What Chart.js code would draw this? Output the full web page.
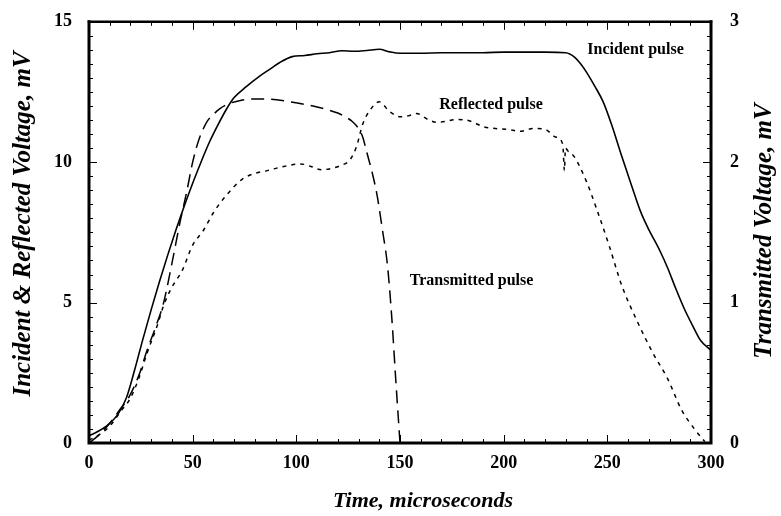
<!DOCTYPE html>
<html>
<head>
<meta charset="utf-8">
<script src="https://cdn.jsdelivr.net/npm/chart.js@4/dist/chart.umd.min.js"></script>
<style>
html,body{margin:0;padding:0;background:#fff;}
#wrap{width:781px;height:516px;}
</style>
</head>
<body>
<div id="wrap"><canvas id="c" width="781" height="516"></canvas></div>
<script>
// ---- data (time in microseconds) ----
const tIncident = [0, 4, 8, 14, 18, 22, 26, 30, 34, 38, 42, 46, 50, 54, 58, 62, 66, 70, 76, 82, 88, 92, 98, 104, 110, 116, 122, 128, 134, 140, 145, 150, 160, 170, 180, 190, 200, 210, 220, 230, 234, 238, 240, 244, 248, 252, 257, 262, 266, 270, 275, 279, 283, 287, 291, 295, 300];
const vIncident = [0.26, 0.4, 0.58, 1.03, 1.6, 2.6, 3.7, 4.75, 5.75, 6.7, 7.6, 8.45, 9.25, 10.0, 10.7, 11.3, 11.85, 12.3, 12.7, 13.05, 13.35, 13.55, 13.76, 13.8, 13.86, 13.9, 13.97, 13.95, 13.98, 14.02, 13.93, 13.88, 13.88, 13.9, 13.9, 13.9, 13.92, 13.92, 13.92, 13.9, 13.75, 13.42, 13.2, 12.7, 12.15, 11.35, 10.2, 9.1, 8.25, 7.6, 6.9, 6.25, 5.5, 4.8, 4.2, 3.65, 3.3];

const tReflected = [0, 5, 10, 15, 20, 24, 28, 33, 36, 40, 45, 50, 55, 60, 66, 74, 80, 86, 94, 102, 107, 112, 117, 121, 126, 129, 132, 135.5, 140, 145, 150, 154, 158, 164, 168, 172, 177, 182, 186, 190, 196, 202, 208, 214, 220, 225, 228.5, 229.3, 229.8, 231, 234, 240, 245, 251, 257, 264, 272, 279, 286, 292, 297];
const vReflected = [0.1, 0.3, 0.6, 1.1, 1.6, 2.3, 3.2, 4.2, 4.9, 5.55, 6.15, 7.05, 7.55, 8.2, 8.8, 9.4, 9.6, 9.7, 9.85, 9.94, 9.85, 9.73, 9.78, 9.87, 10.1, 10.55, 11.35, 11.85, 12.15, 11.8, 11.62, 11.65, 11.73, 11.5, 11.42, 11.45, 11.52, 11.5, 11.4, 11.27, 11.2, 11.17, 11.1, 11.2, 11.17, 10.9, 10.64, 9.7, 10.5, 10.4, 10.2, 9.3, 8.3, 7.0, 5.6, 4.4, 3.2, 2.3, 1.15, 0.5, 0.05];

// transmitted voltage on the right axis (mV)
const tTransmitted = [0, 5, 10, 15, 19, 24, 28, 32, 36, 40, 44, 47, 50, 53, 57, 60, 63, 68, 73, 78, 86, 97, 108, 116, 120, 124, 127, 130, 132, 134, 137, 139, 141.5, 144, 146, 148, 150];
const vTransmitted = [0, 0.06, 0.14, 0.24, 0.32, 0.48, 0.66, 0.82, 1.0, 1.28, 1.58, 1.78, 2.0, 2.16, 2.29, 2.34, 2.38, 2.42, 2.44, 2.45, 2.45, 2.43, 2.4, 2.37, 2.35, 2.32, 2.29, 2.24, 2.18, 2.07, 1.9, 1.76, 1.52, 1.26, 0.9, 0.44, 0];

const xTicks = [0, 50, 100, 150, 200, 250, 300];
const yLeftTicks = [0, 5, 10, 15];
const yRightTicks = [0, 1, 2, 3];

const xTitle = 'Time, microseconds';
const yLeftTitle = 'Incident & Reflected Voltage, mV';
const yRightTitle = 'Transmitted Voltage, mV';
const labels = [
  {text: 'Incident pulse', x: 263.6, y: 14.0},
  {text: 'Reflected pulse', x: 193.9, y: 12.03},
  {text: 'Transmitted pulse', x: 184.5, y: 5.77}
];

function pts(ts, vs){ return ts.map((t,i)=>({x:t, y:vs[i]})); }

const SERIF = '"Liberation Serif", "DejaVu Serif", serif';

const framePlugin = {
  id: 'frame',
  afterDraw(chart){
    const ctx = chart.ctx, a = chart.chartArea;
    const sx = chart.scales.x, sy = chart.scales.y, sy2 = chart.scales.y2;
    ctx.save();
    ctx.strokeStyle = '#000';
    // inward tick marks
    ctx.lineWidth = 1;
    ctx.beginPath();
    for (let v = 0; v <= 300.001; v += 10) {
      const px = Math.round(sx.getPixelForValue(v)) + 0.5;
      const len = (v % 50 === 0) ? 8 : 4;
      ctx.moveTo(px, a.bottom); ctx.lineTo(px, a.bottom - len);
      ctx.moveTo(px, a.top); ctx.lineTo(px, a.top + len);
    }
    for (let v = 0; v <= 15.001; v += 0.5) {
      const py = Math.round(sy.getPixelForValue(v)) + 0.5;
      const len = (Math.abs(v % 5) < 1e-6) ? 8 : 4;
      ctx.moveTo(a.left, py); ctx.lineTo(a.left + len, py);
    }
    for (let k = 0; k <= 30; k++) {
      const v = k / 10;
      const py = Math.round(sy2.getPixelForValue(v)) + 0.5;
      const len = (k % 10 === 0) ? 8 : 4;
      ctx.moveTo(a.right, py); ctx.lineTo(a.right - len, py);
    }
    ctx.stroke();
    // frame
    ctx.lineCap = 'square';
    ctx.lineWidth = 3;
    ctx.beginPath();
    ctx.moveTo(a.left, a.top); ctx.lineTo(a.left, a.bottom); ctx.lineTo(a.right, a.bottom); ctx.lineTo(a.right, a.top);
    ctx.stroke();
    ctx.lineWidth = 2.5;
    ctx.beginPath();
    ctx.moveTo(a.left, a.top); ctx.lineTo(a.right, a.top);
    ctx.stroke();

    // titles
    ctx.fillStyle = '#000';
    ctx.textAlign = 'center';
    ctx.textBaseline = 'middle';
    ctx.font = 'italic bold 22px ' + SERIF;
    ctx.fillText(xTitle, 423, 501);
    ctx.font = 'italic bold 25px ' + SERIF;
    ctx.save();
    ctx.translate(24, 224);
    ctx.rotate(-Math.PI/2);
    ctx.fillText(yLeftTitle, 0, 0);
    ctx.restore();
    ctx.save();
    ctx.translate(765, 231);
    ctx.rotate(-Math.PI/2);
    ctx.fillText(yRightTitle, 0, 0);
    ctx.restore();

    // annotations
    ctx.font = 'bold 16px ' + SERIF;
    labels.forEach(l => {
      ctx.fillText(l.text, sx.getPixelForValue(l.x), sy.getPixelForValue(l.y));
    });
    ctx.restore();
  }
};

const tickFont = {family: SERIF, size: 18, weight: 'bold'};

new Chart(document.getElementById('c'), {
  type: 'line',
  data: {
    datasets: [
      {label: 'Incident pulse', data: pts(tIncident, vIncident), yAxisID: 'y',
       borderColor: '#000', borderWidth: 1.6, pointRadius: 0, cubicInterpolationMode: 'monotone', fill: false},
      {label: 'Reflected pulse', data: pts(tReflected, vReflected), yAxisID: 'y',
       borderColor: '#000', borderWidth: 1.5, borderDash: [4, 5], pointRadius: 0, cubicInterpolationMode: 'monotone', fill: false},
      {label: 'Transmitted pulse', data: pts(tTransmitted, vTransmitted), yAxisID: 'y2',
       borderColor: '#000', borderWidth: 1.5, borderDash: [13, 7], pointRadius: 0, cubicInterpolationMode: 'monotone', fill: false}
    ]
  },
  options: {
    responsive: false,
    animation: false,
    devicePixelRatio: 1,
    layout: {padding: {top: 14, left: 0, right: 0, bottom: 0}},
    plugins: {legend: {display: false}, tooltip: {enabled: false}},
    scales: {
      x: {
        type: 'linear', min: 0, max: 300,
        afterBuildTicks: s => { s.ticks = xTicks.map(v => ({value: v})); },
        ticks: {font: tickFont, color: '#000', padding: 2, maxRotation: 0},
        grid: {display: false}, border: {display: false},
        afterFit: s => { s.height = 73; }
      },
      y: {
        type: 'linear', position: 'left', min: 0, max: 15,
        afterBuildTicks: s => { s.ticks = yLeftTicks.map(v => ({value: v})); },
        ticks: {font: tickFont, color: '#000', padding: 9},
        grid: {display: false}, border: {display: false},
        afterFit: s => { s.width = 89; }
      },
      y2: {
        type: 'linear', position: 'right', min: 0, max: 3,
        afterBuildTicks: s => { s.ticks = yRightTicks.map(v => ({value: v})); },
        ticks: {font: tickFont, color: '#000', padding: 11},
        grid: {display: false}, border: {display: false},
        afterFit: s => { s.width = 70; }
      }
    }
  },
  plugins: [framePlugin]
});
</script>
</body>
</html>
